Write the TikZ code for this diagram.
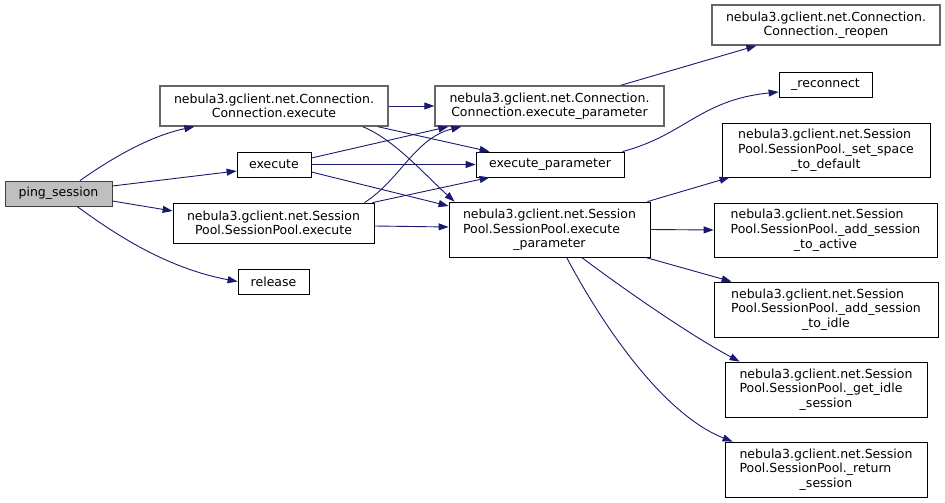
\documentclass[tikz,border=0pt]{standalone}
\usepackage{fontspec}
\setmainfont{DejaVu Sans}
\usepackage{tikz}
\usetikzlibrary{arrows.meta}
\definecolor{callblue}{HTML}{191970}
\definecolor{rootgray}{HTML}{BFBFBF}
\definecolor{edgegray}{HTML}{404040}
\definecolor{linkgray}{HTML}{666666}
\newcommand{\splitlabel}[3]{\begin{tabular}{@{}l@{}}#1\\#2\end{tabular}\\#3}

\begin{document}
\begin{tikzpicture}[
  x=1pt, y=-1pt,
  every node/.style={font=\fontsize{12.5}{14.5}\selectfont, align=center, inner sep=0pt},
  fn/.style={draw=black, line width=0.8pt, fill=white},
  member/.style={fn, draw=linkgray, line width=1.3pt},
  root/.style={fn, fill=rootgray, draw=edgegray},
  call/.style={-{Triangle[length=10pt, width=7pt]}, callblue, line width=0.9pt}
]
\useasboundingbox (0,0) rectangle (945,503);
\node[root, minimum width=107, minimum height=25] (ping) at (58.5,193.5) {ping\_session};
\node[member, minimum width=228, minimum height=40] (cexec) at (274,106) {nebula3.gclient.net.Connection.\\Connection.execute};
\node[fn, minimum width=74, minimum height=25] (exec) at (274,164.5) {execute};
\node[fn, minimum width=201, minimum height=40] (spexec) at (273.5,223) {nebula3.gclient.net.Session\\Pool.SessionPool.execute};
\node[fn, minimum width=71, minimum height=25] (release) at (273.5,281.5) {release};
\node[member, minimum width=229, minimum height=40] (cexecp) at (549.5,106) {nebula3.gclient.net.Connection.\\Connection.execute\_parameter};
\node[fn, minimum width=148, minimum height=25] (execp) at (550,164.5) {execute\_parameter};
\node[fn, minimum width=201, minimum height=55] (spexecp) at (549.5,229.5) {\splitlabel{nebula3.gclient.net.Session}{Pool.SessionPool.execute}{\_parameter}};
\node[member, minimum width=228, minimum height=40] (reopen) at (826,25) {nebula3.gclient.net.Connection.\\Connection.\_reopen};
\node[fn, minimum width=93, minimum height=25] (reconnect) at (825.5,84.5) {\_reconnect};
\node[fn, minimum width=208, minimum height=54] (setspace) at (826,150) {\splitlabel{nebula3.gclient.net.Session}{Pool.SessionPool.\_set\_space}{\_to\_default}};
\node[fn, minimum width=223, minimum height=54] (addactive) at (825.5,230) {\splitlabel{nebula3.gclient.net.Session}{Pool.SessionPool.\_add\_session}{\_to\_active}};
\node[fn, minimum width=224, minimum height=55] (addidle) at (826,309.5) {\splitlabel{nebula3.gclient.net.Session}{Pool.SessionPool.\_add\_session}{\_to\_idle}};
\node[fn, minimum width=202, minimum height=55] (getidle) at (826,389.5) {\splitlabel{nebula3.gclient.net.Session}{Pool.SessionPool.\_get\_idle}{\_session}};
\node[fn, minimum width=202, minimum height=55] (retsess) at (826,469.5) {\splitlabel{nebula3.gclient.net.Session}{Pool.SessionPool.\_return}{\_session}};

\draw[call] ([xshift=21.5]ping.north) .. controls (112,158) and (150,136) .. ([xshift=35]cexec.south west);
\draw[call] ([yshift=7.5]ping.east) -- ([yshift=-6.5]exec.west);
\draw[call] ([yshift=-7.5]ping.east) -- ([yshift=12]spexec.west);
\draw[call] ([xshift=18.5]ping.south) .. controls (112,232) and (165,268) .. (release.west);
\draw[call] (cexec.east) -- (cexecp.west);
\draw[call] ([xshift=-11]cexec.south east) -- ([xshift=14]execp.north west);
\draw[call] ([xshift=-26]cexec.south east) .. controls (395,140) and (425,175) .. ([xshift=6]spexecp.north west);
\draw[call] ([yshift=6.5]exec.east) -- ([xshift=14]cexecp.south west);
\draw[call] (exec.east) -- (execp.west);
\draw[call] ([yshift=-7.5]exec.east) -- ([yshift=23.5]spexecp.west);
\draw[call] ([xshift=-10]spexec.north east) .. controls (400,180) and (415,138) .. ([xshift=27]cexecp.south west);
\draw[call] ([xshift=-2]spexec.north east) -- ([xshift=14]execp.south west);
\draw[call] ([yshift=-3]spexec.east) -- ([yshift=2.5]spexecp.west);
\draw[call] ([xshift=-44]cexecp.north east) -- ([xshift=45]reopen.south west);
\draw[call] ([xshift=-2]execp.north east) .. controls (685,135) and (700,100) .. ([yshift=-7.5]reconnect.west);
\draw[call] ([xshift=-3]spexecp.north east) -- ([xshift=8]setspace.south west);
\draw[call] (spexecp.east) -- (addactive.west);
\draw[call] ([xshift=-5]spexecp.south east) -- ([xshift=18]addidle.north west);
\draw[call] ([xshift=133]spexecp.south west) .. controls (625,290) and (690,335) .. ([xshift=15]getidle.north west);
\draw[call] ([xshift=118]spexecp.south west) .. controls (605,330) and (665,415) .. ([xshift=8]retsess.north west);
\end{tikzpicture}
\end{document}
